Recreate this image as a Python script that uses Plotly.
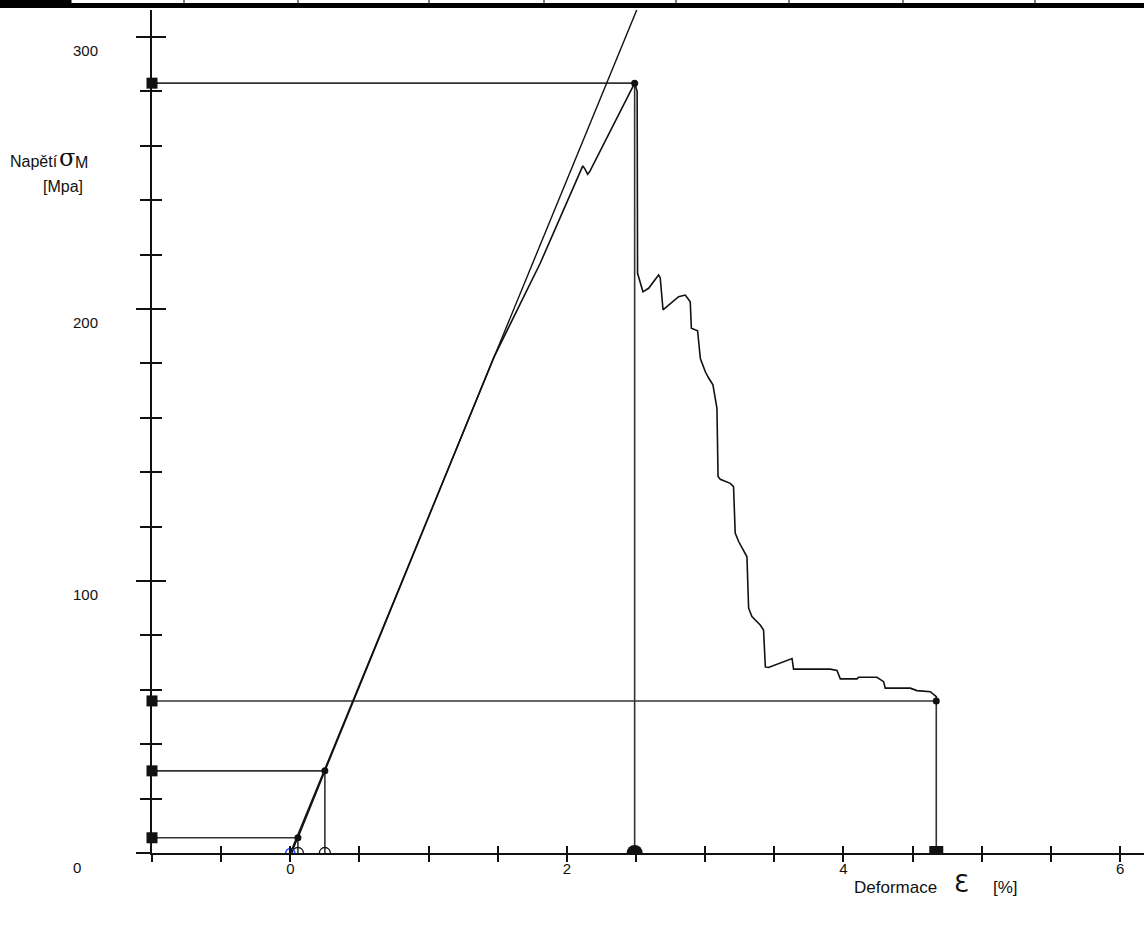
import plotly.graph_objects as go

# ---- measured tensile curve: strain [%] vs. stress [MPa] ----
curve_strain = [0.0, 0.02, 0.04, 0.055, 0.25, 1.47, 1.808, 2.097, 2.115, 2.13, 2.15, 2.165,
                2.47, 2.49, 2.508, 2.508, 2.511, 2.550, 2.591, 2.663, 2.675, 2.695, 2.724, 2.808,
                2.856, 2.892, 2.900, 2.945, 2.965, 3.001, 3.025, 3.056, 3.085, 3.093, 3.109,
                3.181, 3.205, 3.217, 3.242, 3.302, 3.314, 3.338, 3.398, 3.422, 3.435, 3.458,
                3.628, 3.639, 3.904, 3.953, 3.977, 4.098, 4.109, 4.242, 4.290, 4.302, 4.483,
                4.531, 4.628, 4.671, 4.671]
curve_stress = [0.0, 1.5, 4.0, 5.6, 30.2, 182.0, 216.9, 251.1, 252.6, 251.5, 249.5, 250.5,
                280.5, 283.0, 280.0, 214.0, 213.1, 206.3, 207.6, 212.5, 211.4, 199.7, 200.9, 204.5,
                205.1, 202.6, 192.9, 192.0, 181.8, 176.9, 174.6, 172.1, 163.5, 138.4, 137.4,
                135.9, 134.7, 117.6, 114.5, 108.9, 90.0, 86.9, 83.8, 82.0, 68.4, 68.2,
                71.5, 67.6, 67.6, 67.1, 64.0, 64.0, 64.6, 64.6, 63.0, 60.6, 60.6,
                59.7, 59.3, 57.5, 55.9]

# ---- tangent of the elastic region ----
tangent_strain = [0.0, 2.53]
tangent_stress = [0.0, 313.0]

# ---- evaluated points (strain, stress) ----
point_strain = [0.055, 0.25, 2.49, 4.671]
point_stress = [5.6, 30.2, 283.0, 55.9]

# axis tick labels
x_tick_vals = [0, 2, 4, 6]
y_tick_vals = [0, 100, 200, 300]

X_MIN, X_MAX = -1.0, 6.173
Y_MIN, Y_MAX = 0.0, 309.9

INK = "#111111"
GUIDE = "#333333"
FONT = "Liberation Sans, Arial, sans-serif"

fig = go.Figure()

# drop lines from each evaluated point to both axes
gx, gy = [], []
for sx, sy in zip(point_strain, point_stress):
    gx += [X_MIN, sx, sx, None]
    gy += [sy, sy, Y_MIN, None]
fig.add_trace(go.Scatter(x=gx, y=gy, mode="lines",
                         line=dict(color=GUIDE, width=1.6), hoverinfo="skip"))

# elastic tangent (on the overlay axes, which carry the inner tick marks)
fig.add_trace(go.Scatter(x=tangent_strain, y=tangent_stress, mode="lines",
                         xaxis="x2", yaxis="y2",
                         line=dict(color=INK, width=1.4), hoverinfo="skip"))

# stress-strain curve
fig.add_trace(go.Scatter(x=curve_strain, y=curve_stress, mode="lines",
                         line=dict(color=INK, width=1.6)))

# dots on the evaluated points
fig.add_trace(go.Scatter(x=point_strain, y=point_stress, mode="markers",
                         marker=dict(color=INK, size=7, symbol="circle")))

# markers on the stress axis
fig.add_trace(go.Scatter(x=[X_MIN] * len(point_stress), y=point_stress, mode="markers",
                         cliponaxis=False,
                         marker=dict(color=INK, size=11, symbol="square")))

# markers on the strain axis (clipped by the axis into half shapes)
fig.add_trace(go.Scatter(x=[point_strain[2]], y=[Y_MIN], mode="markers",
                         marker=dict(color=INK, size=16, symbol="circle")))
fig.add_trace(go.Scatter(x=[point_strain[3]], y=[Y_MIN], mode="markers",
                         marker=dict(color=INK, size=14, symbol="square")))
fig.add_trace(go.Scatter(x=point_strain[:2], y=[Y_MIN, Y_MIN], mode="markers",
                         marker=dict(color=INK, size=11, symbol="circle-open",
                                     line=dict(width=1.3))))
fig.add_trace(go.Scatter(x=[curve_strain[0]], y=[Y_MIN], mode="markers",
                         marker=dict(color="#1f3fff", size=9, symbol="circle-open",
                                     line=dict(width=1.5))))

axis_common = dict(showgrid=False, zeroline=False, showline=True,
                   linecolor=INK, linewidth=2, tickcolor=INK, tickwidth=1.5)

fig.update_layout(
    width=1144, height=926,
    margin=dict(l=152, r=0, t=10, b=73),
    paper_bgcolor="white", plot_bgcolor="white",
    showlegend=False,
    font=dict(family=FONT, color=INK),
    xaxis=dict(range=[X_MIN, X_MAX], tickmode="array", tickvals=x_tick_vals,
               ticks="outside", ticklen=7, ticklabelstandoff=-6,
               minor=dict(tickmode="linear", tick0=0, dtick=0.5, ticks="outside",
                          ticklen=7, tickcolor=INK, tickwidth=1.5),
               tickfont=dict(size=15, family=FONT), **axis_common),
    xaxis2=dict(range=[X_MIN, X_MAX], overlaying="x", anchor="y2", side="bottom",
                tickmode="linear", tick0=0, dtick=0.5, ticks="inside", ticklen=7,
                showticklabels=False, **axis_common),
    yaxis=dict(range=[Y_MIN, Y_MAX], tickmode="linear", tick0=0, dtick=100,
               ticks="outside", ticklen=14, showticklabels=False,
               minor=dict(tickmode="linear", tick0=0, dtick=20, ticks="outside",
                          ticklen=10, tickcolor=INK, tickwidth=1.5),
               **axis_common),
    yaxis2=dict(range=[Y_MIN, Y_MAX], overlaying="y", anchor="x2", side="left",
                tickmode="linear", tick0=0, dtick=100, ticks="inside", ticklen=14,
                showticklabels=False,
                minor=dict(tickmode="linear", tick0=0, dtick=20, ticks="inside",
                           ticklen=10, tickcolor=INK, tickwidth=1.5),
                **axis_common),
)

# plot area in pixels, used to place decoration outside the axes
L, R, T, B = 152, 1144, 10, 853


def px(xp):
    return (xp - L) / (R - L)


def py(yp):
    return (B - yp) / (B - T)


# stress tick labels, left aligned just under each tick
for v in y_tick_vals:
    fig.add_annotation(x=px(71), xref="paper", y=v, yref="y", yshift=-14,
                       text=str(v), showarrow=False, xanchor="left", yanchor="middle",
                       font=dict(size=15, family=FONT, color=INK))

# axis titles
fig.add_annotation(x=px(34), xref="paper", y=py(162), yref="paper", text="Napětí",
                   showarrow=False, xanchor="center", yanchor="middle",
                   font=dict(size=16, family=FONT, color=INK))
fig.add_annotation(x=px(67), xref="paper", y=py(158), yref="paper", text="σ",
                   showarrow=False, xanchor="center", yanchor="middle",
                   font=dict(size=24, family="DejaVu Serif, serif", color=INK))
fig.add_annotation(x=px(81), xref="paper", y=py(163), yref="paper", text="M",
                   showarrow=False, xanchor="center", yanchor="middle",
                   font=dict(size=16, family=FONT, color=INK))
fig.add_annotation(x=px(63), xref="paper", y=py(186), yref="paper", text="[Mpa]",
                   showarrow=False, xanchor="center", yanchor="middle",
                   font=dict(size=16, family=FONT, color=INK))

fig.add_annotation(x=px(852), xref="paper", y=py(887), yref="paper", text="Deformace",
                   showarrow=False, xanchor="left", yanchor="middle",
                   font=dict(size=17, family=FONT, color=INK))
fig.add_annotation(x=px(961), xref="paper", y=py(884), yref="paper", text="Ɛ",
                   showarrow=False, xanchor="center", yanchor="middle",
                   font=dict(size=24, family="DejaVu Sans, sans-serif", color=INK))
fig.add_annotation(x=px(991), xref="paper", y=py(887), yref="paper", text="[%]",
                   showarrow=False, xanchor="left", yanchor="middle",
                   font=dict(size=17, family=FONT, color=INK))

# header rule of the report table above the chart
header_dividers = [71, 184, 298, 429, 544, 676, 789, 903, 1035]
fig.add_shape(type="rect", xref="paper", yref="paper",
              x0=px(0), x1=px(71), y0=py(8), y1=py(0),
              fillcolor="black", line=dict(width=0))
fig.add_shape(type="rect", xref="paper", yref="paper",
              x0=px(71), x1=px(1144), y0=py(8), y1=py(3),
              fillcolor="black", line=dict(width=0))
for d in header_dividers:
    fig.add_shape(type="line", xref="paper", yref="paper",
                  x0=px(d), x1=px(d), y0=py(3), y1=py(0),
                  line=dict(color="black", width=1))

fig.write_html("out.html")
